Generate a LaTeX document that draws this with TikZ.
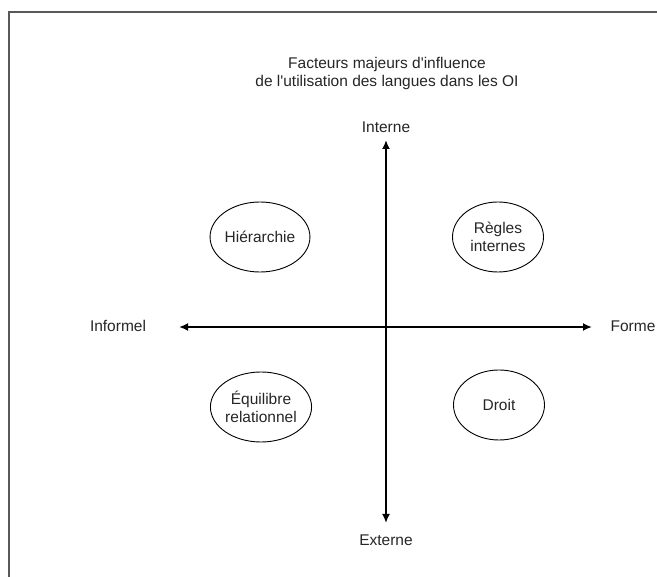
\documentclass[tikz,border=0pt]{standalone}
\usepackage{fontspec}
\newfontfamily\plainsans{Liberation Sans}
\usetikzlibrary{shapes.geometric,arrows.meta}
\begin{document}
\begin{tikzpicture}[x=1pt,y=-1pt,
  every node/.style={font=\plainsans\fontsize{15.5}{18}\selectfont, text=black!85},
  framebox/.style={draw=black!65, line width=1.3pt},
  axis/.style={draw=black, line width=2pt, {Latex[length=9pt,width=8pt]}-{Latex[length=9pt,width=8pt]}},
  bubble/.style={ellipse, draw=black, line width=0.9pt, minimum width=91pt, minimum height=70pt, inner sep=0pt, align=center}]
\useasboundingbox (0,0) rectangle (657,577);
\fill[white] (0,0) rectangle (657,577);
\draw[framebox] (9,577) -- (9,12) -- (657,12);
\node[align=center] (title) at (387,73) {Facteurs majeurs d'influence\\de l'utilisation des langues dans les OI};
\node (interne) at (386,127) {Interne};
\node (externe) at (386,540) {Externe};
\node (informel) at (118,326) {Informel};
\node (forme) at (633,326) {Forme};
\coordinate (top) at (386,140);
\coordinate (bot) at (386,523);
\coordinate (left) at (179,327);
\coordinate (right) at (592,327);
\draw[axis] (top) -- (bot);
\draw[axis] (left) -- (right);
\node[bubble] (hier) at (260,237) {Hiérarchie};
\node[bubble] (regles) at (498,237) {Règles\\internes};
\node[bubble] (equil) at (261,407) {Équilibre\\relationnel};
\node[bubble] (droit) at (499,405) {Droit};
\end{tikzpicture}
\end{document}
